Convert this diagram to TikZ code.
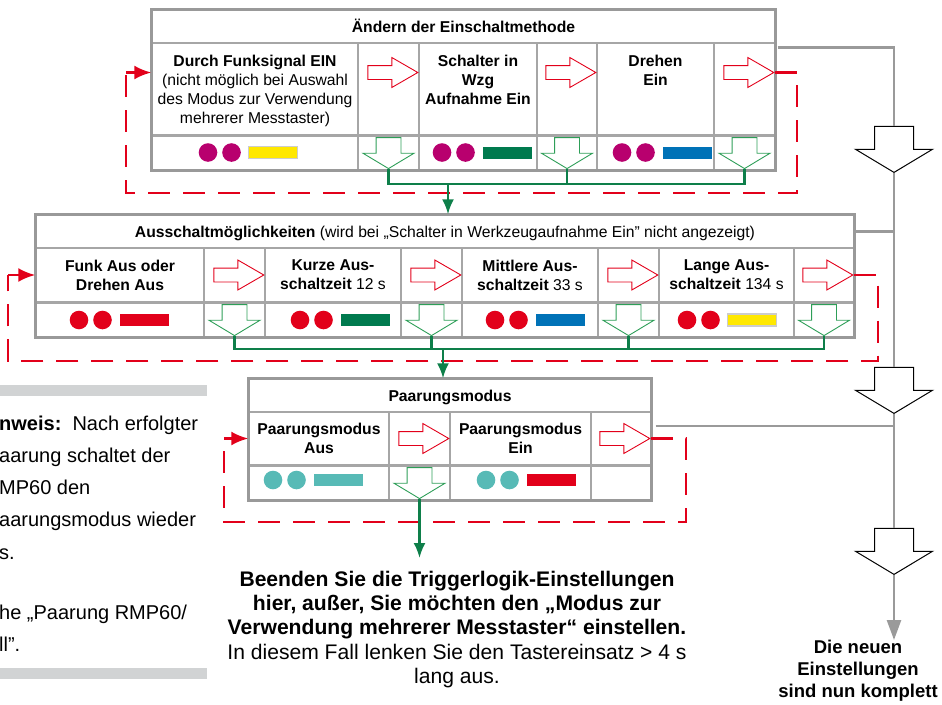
\documentclass[tikz,border=0pt]{standalone}
\usepackage{fontspec}
\setmainfont{Liberation Sans}
\usetikzlibrary{arrows.meta, positioning, shapes.arrows, calc}
\definecolor{gridGray}{HTML}{A6A6A6}
\definecolor{frameGray}{HTML}{999999}
\definecolor{lineGray}{HTML}{9A9A9A}
\definecolor{noteGray}{HTML}{D1D3D4}
\definecolor{loopRed}{HTML}{E2001A}
\definecolor{flowGreen}{HTML}{0E7F4A}
\definecolor{outlineGreen}{HTML}{2E9E58}
\definecolor{ledMagenta}{HTML}{B8006E}
\definecolor{ledRed}{HTML}{E2001A}
\definecolor{ledTeal}{HTML}{57BAB6}
\definecolor{barYellow}{HTML}{FFE800}
\definecolor{barGreen}{HTML}{007A4E}
\definecolor{barBlue}{HTML}{0072B7}

\newcommand{\boxfont}{\fontsize{15.7}{19}\selectfont}

% two LEDs and a colour bar, first LED centred at (#1,#2)
\newcommand{\ledbar}[4]{%
  \fill[#3] (#1,#2) circle[radius=9.3pt] ({#1+23.5},#2) circle[radius=9.3pt];
  \path[#4] ({#1+40.5},{#2-6}) rectangle ({#1+89.5},{#2+6});}

\begin{document}
\begin{tikzpicture}[x=1pt, y=-1pt,
    cell/.style={rectangle, draw=gridGray, line width=1.4pt, inner sep=0pt,
                 align=center, font=\boxfont\bfseries},
    headcell/.style={cell, minimum height=33pt, text height=12pt, text depth=0pt,
                 font=\boxfont},
    boxframe/.style={draw=frameGray, line width=3pt},
    celltext/.style={inner sep=0pt, align=center, font=\boxfont\bfseries},
    redarrow/.style={single arrow, draw=loopRed, line width=0.9pt, inner xsep=0pt,
                 inner ysep=6.5pt, single arrow head extend=8pt,
                 single arrow tip angle=60, minimum height=50pt, anchor=tip},
    greenarrow/.style={single arrow, draw=outlineGreen, line width=0.9pt, inner xsep=0pt,
                 inner ysep=12pt, single arrow head extend=13pt,
                 single arrow tip angle=118, minimum height=31pt, rotate=-90, anchor=tip},
    blockarrow/.style={single arrow, draw=black, fill=white, line width=1pt, inner xsep=0pt,
                 inner ysep=19pt, single arrow head extend=19pt,
                 single arrow tip angle=118, minimum height=46pt, rotate=-90, anchor=tip},
    loopline/.style={draw=loopRed, line width=2.6pt, dash pattern=on 22pt off 13pt},
    loophead/.style={draw=loopRed, line width=2.6pt, -{Latex[length=17pt, width=14pt]}},
    flow/.style={draw=flowGreen, line width=2.4pt},
    flowtip/.style={-{Latex[length=15pt, width=12pt]}},
    grayline/.style={draw=lineGray, line width=2.6pt},
    notetext/.style={inner sep=0pt, align=left, font=\fontsize{20}{32.2}\selectfont},
    stoptext/.style={inner sep=0pt, align=center, font=\fontsize{21.1}{24.2}\selectfont},
    donetext/.style={inner sep=0pt, align=center, font=\fontsize{18.5}{22}\selectfont\bfseries},
  ]
  \useasboundingbox (0,0) rectangle (942,704);

  % --- switch-on method
  \node[headcell, minimum width=623pt] (tt) at (463.5,26.25) {\textbf{Ändern der Einschaltmethode}};
  \node[cell, minimum width=206pt, minimum height=92pt] (t1) at (255,89) {};
  \node[cell, minimum width=61pt, minimum height=92pt] (ta1) at (388.5,89) {};
  \node[cell, minimum width=118pt, minimum height=92pt] (t2) at (478,89) {};
  \node[cell, minimum width=60pt, minimum height=92pt] (ta2) at (567,89) {};
  \node[cell, minimum width=117pt, minimum height=92pt] (t3) at (655.5,89) {};
  \node[cell, minimum width=61pt, minimum height=92pt] (ta3) at (744.5,89) {};
  \foreach \c/\w in {t1/206, ta1/61, t2/118, ta2/60, t3/117, ta3/61}
    \node[cell, minimum width=\w pt, minimum height=33pt, below=0pt of \c] (\c-b) {};
  \draw[boxframe] (tt.north west) rectangle (ta3-b.south east);

  \node[celltext, below=12.3pt of t1.north] (t1txt) {Durch Funksignal EIN\\{\mdseries (nicht möglich bei Auswahl}\\{\mdseries des Modus zur Verwendung}\\{\mdseries mehrerer Messtaster)}};
  \node[celltext, below=12.3pt of t2.north] (t2txt) {Schalter in\\Wzg\\Aufnahme Ein};
  \node[celltext, below=12.3pt of t3.north] (t3txt) {Drehen\\Ein};

  \node[redarrow] (ra1) at ([shift={(-1,-16.5)}]ta1.east) {};
  \node[redarrow] (ra2) at ([shift={(-1,-16.5)}]ta2.east) {};
  \node[redarrow] (ra3) at ([shift={(-1,-16.5)}]ta3.east) {};
  \node[greenarrow] (ga1) at ([yshift=1pt]ta1-b.south) {};
  \node[greenarrow] (ga2) at ([yshift=1pt]ta2-b.south) {};
  \node[greenarrow] (ga3) at ([yshift=1pt]ta3-b.south) {};

  \ledbar{208}{152.5}{ledMagenta}{fill=barYellow, draw=gray!40, line width=1.2pt}
  \ledbar{442}{152.5}{ledMagenta}{fill=barGreen}
  \ledbar{622}{152.5}{ledMagenta}{fill=barBlue}

  % --- switch-off options
  \node[headcell, minimum width=818pt] (mt) at (445,231.5) {\textbf{Ausschaltmöglichkeiten} (wird bei „Schalter in Werkzeugaufnahme Ein” nicht angezeigt)};
  \node[cell, minimum width=168pt, minimum height=54pt] (m1) at (120,275) {Funk Aus oder\\Drehen Aus};
  \node[cell, minimum width=61pt, minimum height=54pt] (ma1) at (234.5,275) {};
  \node[cell, minimum width=136pt, minimum height=54pt] (m2) at (333,275) {Kurze Aus-\\schaltzeit {\mdseries 12 s}};
  \node[cell, minimum width=61pt, minimum height=54pt] (ma2) at (431.5,275) {};
  \node[cell, minimum width=136pt, minimum height=54pt] (m3) at (530,275) {Mittlere Aus-\\schaltzeit {\mdseries 33 s}};
  \node[cell, minimum width=61pt, minimum height=54pt] (ma3) at (628.5,275) {};
  \node[cell, minimum width=135pt, minimum height=54pt] (m4) at (726.5,275) {Lange Aus-\\schaltzeit {\mdseries 134 s}};
  \node[cell, minimum width=60pt, minimum height=54pt] (ma4) at (824,275) {};
  \foreach \c/\w in {m1/168, ma1/61, m2/136, ma2/61, m3/136, ma3/61, m4/135, ma4/60}
    \node[cell, minimum width=\w pt, minimum height=33pt, below=0pt of \c] (\c-b) {};
  \draw[boxframe] (mt.north west) rectangle (ma4-b.south east);

  \node[redarrow] (rm1) at ([xshift=-1pt]ma1.east) {};
  \node[redarrow] (rm2) at ([xshift=-1pt]ma2.east) {};
  \node[redarrow] (rm3) at ([xshift=-1pt]ma3.east) {};
  \node[redarrow] (rm4) at ([xshift=-1pt]ma4.east) {};
  \node[greenarrow] (gm1) at ([yshift=1pt]ma1-b.south) {};
  \node[greenarrow] (gm2) at ([yshift=1pt]ma2-b.south) {};
  \node[greenarrow] (gm3) at ([yshift=1pt]ma3-b.south) {};
  \node[greenarrow] (gm4) at ([yshift=1pt]ma4-b.south) {};

  \ledbar{79}{320}{ledRed}{fill=ledRed}
  \ledbar{300}{320}{ledRed}{fill=barGreen}
  \ledbar{495}{320}{ledRed}{fill=barBlue}
  \ledbar{687}{320}{ledRed}{fill=barYellow, draw=gray!40, line width=1.2pt}

  % --- pairing mode
  \node[headcell, minimum width=402pt] (pt) at (450,395.5) {\textbf{Paarungsmodus}};
  \node[cell, minimum width=140pt, minimum height=53pt] (p1) at (319,438.5) {Paarungsmodus\\Aus};
  \node[cell, minimum width=61pt, minimum height=53pt] (pa1) at (419.5,438.5) {};
  \node[cell, minimum width=141pt, minimum height=53pt] (p2) at (520.5,438.5) {Paarungsmodus\\Ein};
  \node[cell, minimum width=60pt, minimum height=53pt] (pa2) at (621,438.5) {};
  \foreach \c/\w in {p1/140, pa1/61, p2/141, pa2/60}
    \node[cell, minimum width=\w pt, minimum height=33pt, below=0pt of \c] (\c-b) {};
  \draw[boxframe] (pt.north west) rectangle (pa2-b.south east);

  \node[redarrow] (rp1) at ([xshift=-1pt]pa1.east) {};
  \node[redarrow] (rp2) at ([xshift=-1pt]pa2.east) {};
  \node[greenarrow] (gp1) at ([yshift=1pt]pa1-b.south) {};

  \ledbar{273}{480}{ledTeal}{fill=ledTeal}
  \ledbar{486}{480}{ledTeal}{fill=ledRed}

  % --- dashed return loops
  \coordinate (topLoopR) at (797,193);
  \coordinate (topLoopL) at (126,72.5);
  \draw[loopline] (ra3.tip) -| (topLoopR) -| (topLoopL);
  \draw[loophead] (topLoopL) -- (topLoopL -| t1.west);

  \coordinate (midLoopR) at (878,361);
  \coordinate (midLoopL) at (8,275);
  \draw[loopline] (rm4.tip) -| (midLoopR) -| (midLoopL);
  \draw[loophead] (midLoopL) -- (midLoopL -| m1.west);

  \coordinate (pairLoopR) at (686,522);
  \coordinate (pairLoopL) at (224,438.5);
  \draw[loopline] (rp2.tip) -| (pairLoopR) -| (pairLoopL);
  \draw[loophead] (pairLoopL) -- (pairLoopL -| p1.west);

  % --- green flow to the next table
  \coordinate (topJoin) at (448,184);
  \draw[flow] (ga1.tip) |- (topJoin) -| (ga3.tip);
  \draw[flow] (ga2.tip) -- (ga2.tip |- topJoin);
  \draw[flow, flowtip] (topJoin) -- (topJoin |- mt.north);

  \coordinate (midJoin) at (443,349);
  \draw[flow] (gm1.tip) |- (midJoin) -| (gm4.tip);
  \draw[flow] (gm2.tip) -- (gm2.tip |- midJoin);
  \draw[flow] (gm3.tip) -- (gm3.tip |- midJoin);
  \draw[flow, flowtip] (midJoin) -- (midJoin |- pt.north);

  \node[stoptext, anchor=north] (stop) at (457,571) {\textbf{Beenden Sie die Triggerlogik-Einstellungen}\\\textbf{hier, außer, Sie möchten den „Modus zur}\\\textbf{Verwendung mehrerer Messtaster“ einstellen.}\\In diesem Fall lenken Sie den Tastereinsatz > 4 s\\lang aus.};
  \draw[flow, flowtip, shorten >=13pt] (gp1.tip) -- (gp1.tip |- stop.north);

  % --- exit path on the right
  \node[blockarrow] (ba1) at (894,173) {};
  \node[blockarrow] (ba2) at (894,414) {};
  \node[blockarrow] (ba3) at (894,575) {};
  \node[donetext, anchor=north] (done) at (858,640) {Die neuen\\Einstellungen\\sind nun komplett};
  \draw[grayline] ([shift={(2,4)}]tt.south east) -| (ba1.tail);
  \draw[grayline] (mt.east) -- (mt.east -| ba1.tip);
  \draw[grayline] ([shift={(4,-12.5)}]pa2.east) coordinate (pairOut) -- (pairOut -| ba2.tip);
  \draw[grayline] (ba1.tip) -- (ba2.tail);
  \draw[grayline] (ba2.tip) -- (ba3.tail);
  \draw[grayline, -{Triangle[length=20pt, width=14pt]}] (ba3.tip) -- (ba3.tip |- done.north);

  % --- side note
  \fill[noteGray] (0,385) rectangle (207,396);
  \fill[noteGray] (0,668) rectangle (207,679);
  \node[notetext, anchor=north west] (note) at (-1,415.5) {\textbf{nweis:}\ \ Nach erfolgter\\aarung schaltet der\\MP60 den\\aarungsmodus wieder\\s.\\[28pt]he „Paarung RMP60/\\ll”.};
\end{tikzpicture}
\end{document}
